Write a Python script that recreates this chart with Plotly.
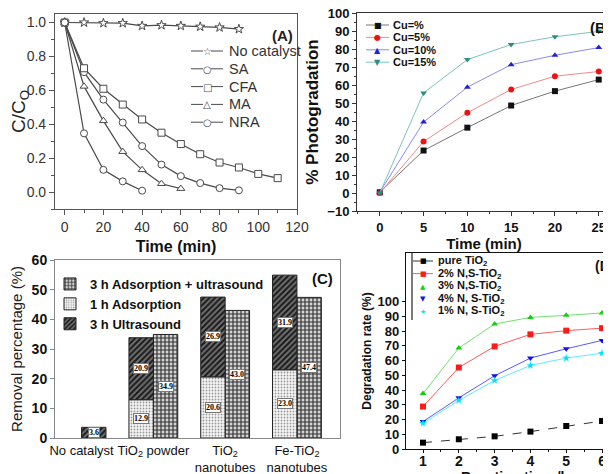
import plotly.graph_objects as go

# The page shows the figure 8 px from the window's top-left corner.
WIN_W, WIN_H, OFF = 611, 474, 8
W, H = WIN_W - OFF, WIN_H - OFF

# ---------------- Panel A data ----------------
time_a = [0, 10, 20, 30, 40, 50, 60, 70, 80, 90, 100, 110]
a_no_catalyst = [1.0, 1.0, 0.996, 0.996, 0.98, 0.984, 0.98, 0.975, 0.971, 0.961]
a_sa = [1.0, 0.707, 0.545, 0.41, 0.271, 0.162, 0.094, 0.053, 0.023, 0.01]
a_cfa = [1.0, 0.73, 0.609, 0.516, 0.428, 0.35, 0.283, 0.223, 0.174, 0.145, 0.107, 0.082]
a_ma = [1.0, 0.623, 0.42, 0.238, 0.131, 0.049, 0.02]
a_nra = [1.0, 0.346, 0.131, 0.063, 0.008]

# ---------------- Panel B data ----------------
time_b = [0, 5, 10, 15, 20, 25]
b_cu0 = [0.4, 23.6, 36.3, 48.6, 56.6, 63.0]
b_cu5 = [0.0, 28.6, 44.6, 57.5, 64.9, 67.5]
b_cu10 = [0.4, 39.4, 58.8, 71.3, 76.5, 80.8]
b_cu15 = [0.0, 55.6, 74.1, 82.5, 86.8, 89.8]

# ---------------- Panel C data ----------------
c_categories = ["No catalyst", "TiO2 powder", "TiO2 nanotubes", "Fe-TiO2 nanotubes"]
c_ticklabels = ["No catalyst", "TiO<sub>2</sub> powder",
                "TiO<sub>2</sub><br>nanotubes", "Fe-TiO<sub>2</sub><br>nanotubes"]
c_adsorption_1h = [None, 12.9, 20.6, 23.0]
c_ultrasound_3h = [3.6, 20.9, 26.9, 31.9]
c_ads_ultra_3h = [None, 34.9, 43.0, 47.4]

# ---------------- Panel D data ----------------
time_d = [1, 2, 3, 4, 5, 6]
d_pure = [4.3, 6.6, 8.6, 11.8, 15.6, 19.0]
d_ns2 = [28.8, 55.3, 69.6, 77.8, 80.3, 82.0]
d_ns3 = [37.6, 68.5, 84.8, 89.3, 90.7, 92.3]
d_ns4 = [18.6, 34.7, 49.7, 61.7, 68.0, 73.7]
d_ns1 = [17.5, 32.9, 46.5, 56.7, 61.7, 65.0]


def px_x(p):
    return (p - OFF) / W


def px_y(p):
    return 1 - (p - OFF) / H


FONT = "Liberation Sans, Arial, DejaVu Sans, sans-serif"
fig = go.Figure()
annotations = []
shapes = []

# ---------- Panel A traces ----------
A_COL = "#4a4a4a"
a_series = [("No catalyst", a_no_catalyst, "star", "☆"),
            ("SA", a_sa, "circle", "○"),
            ("CFA", a_cfa, "square", "□"),
            ("MA", a_ma, "triangle-up", "△"),
            ("NRA", a_nra, "circle", "○")]
for name, vals, sym, _g in a_series:
    fig.add_trace(go.Scatter(
        x=time_a[:len(vals)], y=vals, name=name, mode="lines+markers", showlegend=False,
        line=dict(color=A_COL, width=1.2),
        marker=dict(symbol=sym, size=7, color="white", line=dict(width=1, color=A_COL)),
        xaxis="x", yaxis="y"))

# ---------- Panel B traces ----------
b_series = [("Cu=%", b_cu0, "#111111", "#777777", "square", "■"),
            ("Cu=5%", b_cu5, "#ee1111", "#f08a8a", "circle", "●"),
            ("Cu=10%", b_cu10, "#2020dd", "#8a8af0", "triangle-up", "▲"),
            ("Cu=15%", b_cu15, "#2a8f80", "#7cc4b8", "triangle-down", "▼")]
for name, vals, mc, lc, sym, _g in b_series:
    fig.add_trace(go.Scatter(
        x=time_b, y=vals, name=name, mode="lines+markers", showlegend=False,
        line=dict(color=lc, width=1),
        marker=dict(symbol=sym, size=6, color=mc),
        xaxis="x2", yaxis="y2"))

# ---------- Panel C traces ----------
bw = 0.34
fig.add_trace(go.Bar(
    x=c_categories, y=c_ads_ultra_3h, name="3 h Adsorption + ultrasound",
    width=bw, offset=0,
    marker=dict(color="#c8c8c8", line=dict(color="#222222", width=1),
                pattern=dict(shape="+", fgcolor="#333333", bgcolor="#d4d4d4", size=4, solidity=0.5)),
    xaxis="x3", yaxis="y3", legend="legend3"))
fig.add_trace(go.Bar(
    x=c_categories, y=c_adsorption_1h, name="1 h Adsorption",
    width=bw, offset=-bw,
    marker=dict(color="#f2f2f2", line=dict(color="#222222", width=1),
                pattern=dict(shape=".", fgcolor="#9a9a9a", bgcolor="#f7f7f7", size=3, solidity=0.3)),
    xaxis="x3", yaxis="y3", legend="legend3"))
c_base = [a if a is not None else 0 for a in c_adsorption_1h]
fig.add_trace(go.Bar(
    x=c_categories, y=c_ultrasound_3h, base=c_base, name="3 h Ultrasound",
    width=bw, offset=[0, -bw, -bw, -bw],
    marker=dict(color="#444444", line=dict(color="#222222", width=1),
                pattern=dict(shape="/", fgcolor="#1a1a1a", bgcolor="#707070", size=4, solidity=0.5)),
    xaxis="x3", yaxis="y3", legend="legend3"))

# value labels in white boxes
lbl_font = dict(family="Liberation Serif, serif", size=8, color="#000000")
for i in range(len(c_categories)):
    us_off = 0 if i == 0 else -bw
    if c_adsorption_1h[i] is not None:
        annotations.append(dict(x=i - bw / 2, y=c_adsorption_1h[i] / 2, xref="x3", yref="y3",
                                text="<b>%.1f</b>" % c_adsorption_1h[i], showarrow=False,
                                font=lbl_font, bgcolor="white", bordercolor="#777", borderwidth=1, borderpad=0))
    annotations.append(dict(x=i + us_off + bw / 2, y=c_base[i] + c_ultrasound_3h[i] / 2, xref="x3", yref="y3",
                            text="<b>%.1f</b>" % c_ultrasound_3h[i], showarrow=False,
                            font=lbl_font, bgcolor="white", bordercolor="#777", borderwidth=1, borderpad=0))
    if c_ads_ultra_3h[i] is not None:
        annotations.append(dict(x=i + bw / 2, y=c_ads_ultra_3h[i] / 2, xref="x3", yref="y3",
                                text="<b>%.1f</b>" % c_ads_ultra_3h[i], showarrow=False,
                                font=lbl_font, bgcolor="white", bordercolor="#777", borderwidth=1, borderpad=0))

# ---------- Panel D traces ----------
d_series = [("pure TiO<sub>2</sub>", d_pure, "#000000", "#333333", "square", "dash", "■", True),
            ("2% N,S-TiO<sub>2</sub>", d_ns2, "#ff1a1a", "#ff5a5a", "square", "solid", "■", True),
            ("3% N,S-TiO<sub>2</sub>", d_ns3, "#10d010", "#70e070", "triangle-up", "solid", "▲", False),
            ("4% N, S-TiO<sub>2</sub>", d_ns4, "#1010f0", "#5a5aff", "triangle-down", "solid", "▼", False),
            ("1% N, S-TiO<sub>2</sub>", d_ns1, "#00e0ff", "#60eaff", "star", "solid", "★", False)]
for name, vals, mc, lc, sym, dash, _g, _l in d_series:
    fig.add_trace(go.Scatter(
        x=time_d, y=vals, name=name, mode="lines+markers", showlegend=False,
        line=dict(color=lc, width=1, dash=dash),
        marker=dict(symbol=sym, size=6, color=mc),
        xaxis="x4", yaxis="y4"))


# ---------- text legends (tight row spacing as in the reference) ----------
def text_legend(rows, x0, x1, xt, y0, dy, fsize, fcolor, bold, gap=0):
    xm = (x0 + x1) / 2
    for k, (label, lcolor, glyph, gcolor, gsize, show_line) in enumerate(rows):
        yp = y0 + k * dy
        if show_line:
            segs = [(x0, xm - gap), (xm + gap, x1)] if gap else [(x0, x1)]
            for s0, s1 in segs:
                shapes.append(dict(type="line", xref="paper", yref="paper",
                                   x0=px_x(s0), x1=px_x(s1), y0=px_y(yp), y1=px_y(yp),
                                   line=dict(color=lcolor, width=1)))
        annotations.append(dict(x=px_x(xm), y=px_y(yp + 0.5), xref="paper", yref="paper", text=glyph,
                                showarrow=False, xanchor="center", yanchor="middle",
                                font=dict(family="DejaVu Sans, sans-serif", size=gsize, color=gcolor)))
        annotations.append(dict(x=px_x(xt), y=px_y(yp), xref="paper", yref="paper",
                                text=("<b>%s</b>" % label) if bold else label,
                                showarrow=False, xanchor="left", yanchor="middle",
                                font=dict(family=FONT, size=fsize, color=fcolor)))


text_legend([(n, A_COL, g, A_COL, 10, True) for n, _v, _s, g in a_series],
            191, 223, 227, 51, 17.8, 14.5, "#333333", False, gap=4)
text_legend([(n, lc, g, mc, 8, True) for n, _v, mc, lc, _s, g in b_series],
            366, 389, 391, 25, 12.4, 11, "#111111", True)
text_legend([(n, lc if l else mc, g, mc, 7, l) for n, _v, mc, lc, _s, _d, g, l in d_series],
            413, 433, 436, 261, 12.6, 11, "#111111", True)
shapes.append(dict(type="line", xref="paper", yref="paper", x0=px_x(412), x1=px_x(412),
                   y0=px_y(253), y1=px_y(320), line=dict(color="#222", width=1.2)))

# panel letters and the (cut-off) x title of panel D
annotations += [
    dict(x=px_x(282), y=px_y(25), xref="paper", yref="paper", text="<b>(A)</b>", showarrow=False,
         font=dict(family=FONT, size=15, color="#222")),
    dict(x=px_x(588), y=px_y(17), xref="paper", yref="paper", text="<b>(B)</b>", showarrow=False,
         xanchor="left", font=dict(family=FONT, size=15, color="#111")),
    dict(x=px_x(322), y=px_y(278), xref="paper", yref="paper", text="<b>(C)</b>", showarrow=False,
         font=dict(family=FONT, size=15, color="#111")),
    dict(x=px_x(593), y=px_y(266), xref="paper", yref="paper", text="<b>(D)</b>", showarrow=False,
         xanchor="left", font=dict(family=FONT, size=14, color="#111")),
    dict(x=px_x(515), y=px_y(467), xref="paper", yref="paper", text="<b>Reaction time /h</b>",
         showarrow=False, xanchor="center", yanchor="top",
         font=dict(family=FONT, size=14, color="#111")),
]

axis_common = dict(showgrid=False, zeroline=False, showline=True, mirror=True, ticks="outside",
                   automargin=False)

fig.update_layout(
    template="none",
    width=W, height=H, margin=dict(l=0, r=0, t=0, b=0, autoexpand=False),
    paper_bgcolor="white", plot_bgcolor="white",
    font=dict(family=FONT, color="#222"),
    barmode="overlay",
    annotations=annotations,
    shapes=shapes,
    # Panel A
    xaxis=dict(axis_common, domain=[px_x(55), px_x(297)], anchor="y", range=[-5, 120],
               tickvals=[0, 20, 40, 60, 80, 100, 120], linecolor="#555", linewidth=1.2,
               tickcolor="#555", ticklen=5, tickfont=dict(size=14, color="#333"),
               ticklabeloverflow="allow",
               minor=dict(ticks="outside", ticklen=3, dtick=10, tickcolor="#555"),
               title=dict(text="<b>Time (min)</b>", font=dict(size=16, color="#111"), standoff=6)),
    yaxis=dict(axis_common, domain=[px_y(209), px_y(14)], anchor="x", range=[-0.1, 1.05],
               tickvals=[0, 0.2, 0.4, 0.6, 0.8, 1.0], tickformat=".1f", linecolor="#555", linewidth=1.2,
               tickcolor="#555", ticklen=5, tickfont=dict(size=14, color="#333"),
               ticklabeloverflow="allow",
               minor=dict(ticks="outside", ticklen=3, dtick=0.1, tickcolor="#555"),
               title=dict(text="C/C<sub>O</sub>", font=dict(size=19, color="#222"), standoff=4)),
    # Panel B
    xaxis2=dict(axis_common, domain=[px_x(357), 1.0], anchor="y2", range=[-2.6, 26.4],
                tickvals=[0, 5, 10, 15, 20, 25], linecolor="#333", linewidth=1,
                tickcolor="#333", ticklen=4, tickfont=dict(size=13, color="#111", weight="bold"),
                ticklabeloverflow="allow",
                minor=dict(ticks="outside", ticklen=2, dtick=2.5, tickcolor="#333"),
                title=dict(text="<b>Time (min)</b>", font=dict(size=15, color="#111"), standoff=2)),
    yaxis2=dict(axis_common, domain=[px_y(211), px_y(13)], anchor="x2", range=[-10, 100],
                dtick=10, linecolor="#333", linewidth=1,
                tickcolor="#333", ticklen=4, tickfont=dict(size=13, color="#111", weight="bold"),
                ticklabeloverflow="allow",
                minor=dict(ticks="outside", ticklen=2, dtick=5, tickcolor="#333"),
                title=dict(text="<b>% Photogradation</b>", font=dict(size=17, color="#111"), standoff=4)),
    # Panel C
    xaxis3=dict(axis_common, domain=[px_x(55), px_x(340)], anchor="y3", type="category",
                range=[-0.37, 3.6], tickvals=c_categories, ticktext=c_ticklabels, tickangle=0,
                linecolor="#888", linewidth=1, ticks="", tickfont=dict(size=13, color="#111"),
                ticklabeloverflow="allow"),
    yaxis3=dict(axis_common, domain=[px_y(438), px_y(260)], anchor="x3", range=[0, 60],
                dtick=10, linecolor="#888", linewidth=1, tickcolor="#888", ticklen=4,
                tickfont=dict(size=14, color="#111", weight="bold"), ticklabeloverflow="allow",
                title=dict(text="Removal percentage (%)", font=dict(size=15, color="#222"), standoff=6)),
    # Panel D
    xaxis4=dict(axis_common, domain=[px_x(406), 1.0], anchor="y4", range=[0.525, 6.25],
                tickvals=[1, 2, 3, 4, 5, 6], linecolor="#111", linewidth=1.3,
                tickcolor="#111", ticklen=3, tickfont=dict(size=14, color="#111", weight="bold"),
                ticklabeloverflow="allow", ticklabelstandoff=-4,
                minor=dict(ticks="outside", ticklen=2, dtick=0.5, tickcolor="#111")),
    yaxis4=dict(axis_common, domain=[px_y(449), px_y(253)], anchor="x4", range=[0, 133],
                tickvals=list(range(0, 101, 10)), linecolor="#111", linewidth=1.3,
                tickcolor="#111", ticklen=3, tickfont=dict(size=13, color="#111", weight="bold"),
                ticklabeloverflow="allow",
                title=dict(text="<b>Degradation rate (%)</b>", font=dict(size=12, color="#111"), standoff=3)),
    showlegend=True,
    legend3=dict(x=px_x(50), y=px_y(269), xanchor="left", yanchor="top", bgcolor="rgba(0,0,0,0)",
                 font=dict(family=FONT, size=13, color="#111", weight="bold"), traceorder="normal",
                 itemwidth=30),
)

fig.write_html("out.html")
